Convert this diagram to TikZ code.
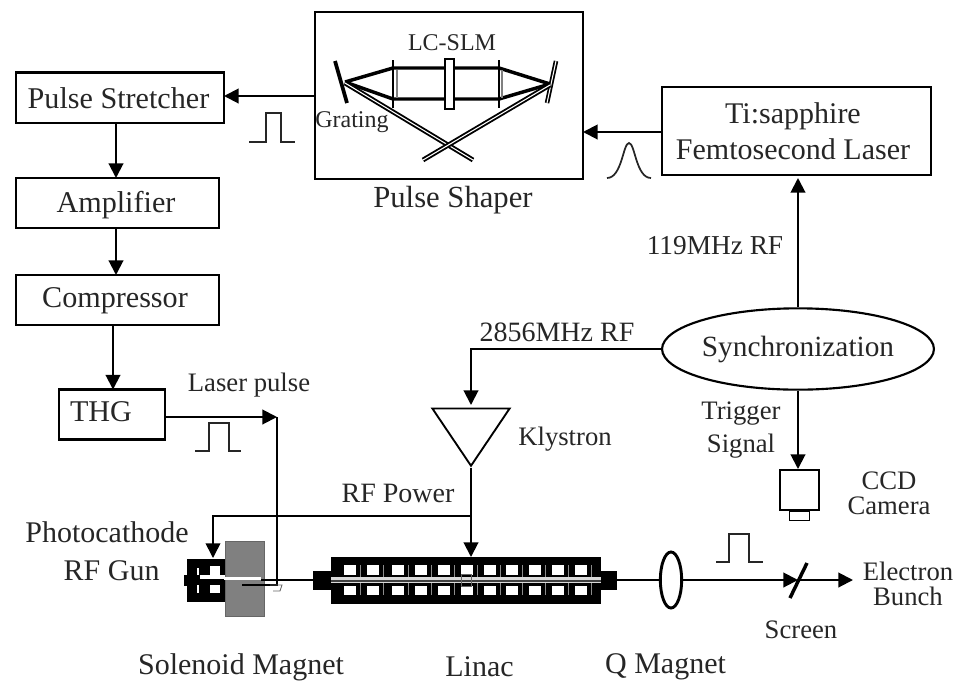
\documentclass[tikz,border=0pt]{standalone}
\usepackage{fontspec}
\setmainfont{Liberation Serif}
\usetikzlibrary{arrows.meta,shapes.geometric}
\tikzset{
 x=0.75pt,y=-0.75pt,
 lbl/.style={inner sep=0pt,font=\fontsize{#1}{25}\selectfont,text=black!85,align=center},
 lbl/.default=21,
 boxn/.style={draw,line width=1.6pt,inner sep=0pt,outer sep=0pt,anchor=north west},
 conn/.style={line width=1.5pt,-{Triangle[length=11pt,width=11pt]}},
 pulse/.style={line width=1.3pt,black!85},
 beam/.style={line width=2.6pt},
}
\begin{document}
\begin{tikzpicture}
\useasboundingbox (0,0) rectangle (961,683);
% boxes
\node[boxn,minimum width=156pt,minimum height=38pt] (ps) at (16,72.5) {};
\node[lbl=22.6] at (118.5,98) {Pulse Stretcher};
\node[boxn,minimum width=152pt,minimum height=37.5pt] (amp) at (16,178) {};
\node[lbl=22.6] at (116,205) {Amplifier};
\node[boxn,minimum width=152pt,minimum height=37.5pt] (comp) at (16,275) {};
\node[lbl=22.6] at (115,301) {Compressor};
\node[boxn,minimum width=79.5pt,minimum height=37.5pt] (thg) at (59,389.5) {};
\node[lbl=22.6] at (101,412) {THG};
\node[boxn,minimum width=201pt,minimum height=125pt] (shaper) at (315,12) {};
\node[boxn,minimum width=201.75pt,minimum height=66pt] (ti) at (662,87) {};
\node[lbl=22.5] (titext) at (793,131) {Ti:sapphire\\[2pt]Femtosecond Laser};
\node[draw,line width=1.6pt,ellipse,minimum width=99pt,minimum height=61pt,inner sep=0pt,lbl=22] (sync) at (798,349) {Synchronization};
% klystron
\node[draw,line width=1.4pt,isosceles triangle,shape border rotate=-90,isosceles triangle stretches,minimum width=58pt,minimum height=43pt,inner sep=0pt] (kly) at (471,429) {};
% CCD
\node[draw,line width=1.4pt,minimum width=29.5pt,minimum height=30pt,inner sep=0pt,anchor=north west] (ccd) at (779,469) {};
\node[draw,line width=1.2pt,minimum width=15pt,minimum height=6.5pt,inner sep=0pt,anchor=north] (ccdl) at (ccd.south) {};
% connectors
\coordinate (psin) at (224,96);
\coordinate (tiin) at (798,178);
\draw[conn] (shaper.west |- psin) -- (psin);
\draw[conn] (116,123) -- (116,178);
\draw[conn] (116,228) -- (116,275);
\draw[conn] (113,325) -- (113,389.5);
\draw[conn] (ti.west |- 0,132) -- (shaper.east |- 0,132);
\draw[conn] (sync.north) -- (tiin);
\coordinate (k1) at (471,349);
\draw[conn] (sync.west) -- (k1) -- (kly.north |- 0,405);
\draw[conn] (sync.south) -- (sync.south |- ccd.north);
% gray solenoid
\fill[black!50,draw=black!60,line width=.6pt] (225,541) rectangle (264,616);
% gun
\fill[black] (187,559) rectangle (225,602);
\fill[black] (184,575) rectangle (187,586);
\fill[white] (197,568) rectangle (199,575);
\fill[white] (210,566) rectangle (220,576);
\fill[white] (200,575) rectangle (225,579);
\fill[white] (210,585) rectangle (220,593);
\fill[white] (197,585) rectangle (199,593);
\fill[white] (224,577) rectangle (261,579.5);
% linac
\fill[black] (331,557) rectangle (601,604);
\foreach \c in {350,373,398,421,444,467,490,512,535,558,581}{
 \fill[white] (\c-6,565) rectangle (\c+6,575);
 \fill[white] (\c-6,586) rectangle (\c+6,595);
 \draw[black!45,line width=.5pt] (\c+10,565) -- (\c+10,595);
}
\fill[black!15] (331,577) rectangle (601,583);
\draw[black!75,line width=.9pt] (331,581) -- (601,581);
\fill[black] (313,571) rectangle (331,590);
\fill[black] (601,571) rectangle (617,590);
\draw[black!60,line width=.7pt] (461,574) rectangle (471,586);
% beam line
\draw[line width=1.4pt] (261,580) -- (313,580);
\draw[line width=1.4pt] (617,580) -- (661,580);
\node[draw,line width=2.2pt,ellipse,minimum width=16pt,minimum height=42pt,inner sep=0pt] (qm) at (671,580) {};
\coordinate (scr) at (798,580);
\coordinate (eb) at (853,580);
\draw[conn] (qm.east) -- (scr);
\draw[conn] (scr) -- (eb);
\draw[line width=2.6pt] (790,598) -- (807,563);
% klystron to linac, RF
\coordinate (lin) at (471,557);
\coordinate (rf) at (471,516);
\coordinate (gt) at (213,558);
\draw[conn] (kly.south) -- (lin);
\draw[conn,line width=1.2pt] (rf) -- (213,516) -- (gt);
% laser path
\coordinate (m) at (277,417);
\coordinate (m2) at (277,585);
\draw[conn] (thg.east |- m) -- (m);
\draw[line width=1.5pt] (m) -- (m2) -- (242,585);
\draw[black!60,line width=.7pt] (270,585) -- (282,585) -- (280,591) -- (273,591);
% pulses
\draw[pulse] (249,142) -- (266,142) -- (266,113) -- (281,113) -- (281,142) -- (295,142);
\draw[pulse] (195,451) -- (209,451) -- (209,423) -- (229,423) -- (229,451) -- (241,451);
\draw[pulse] (716,562) -- (729,562) -- (729,534) -- (749,534) -- (749,562) -- (763,562);
\draw[pulse] (607,178) .. controls (622,178) and (623,143) .. (629,143) .. controls (635,143) and (636,178) .. (651,178);
% pulse shaper optics
\draw[line width=2.8pt] (335,61) -- (347,103);
\draw[line width=3.4pt] (556,61) -- (547,103);
\draw[white,line width=.8pt] (556,61) -- (547,103);
\draw[beam] (345,82) -- (393,68) -- (499,68) -- (550,84);
\draw[beam] (345,82) -- (393,99) -- (499,99) -- (550,84);
\draw[line width=3.6pt] (345,83) -- (473,160);
\draw[white,line width=.8pt] (345,83) -- (473,160);
\draw[line width=3.6pt] (550,85) -- (423,160);
\draw[white,line width=.8pt] (550,85) -- (423,160);
\draw[line width=2.2pt] (393,60) -- (393,108);
\draw[black!50,line width=1.4pt] (397,70) -- (397,98);
\draw[line width=2.2pt] (499,60) -- (499,108);
\draw[black!50,line width=2pt] (502,70) -- (502,98);
\draw[fill=white,line width=1.3pt] (445,59) rectangle (454,109);
% labels
\node[lbl=18] (slm) at (452,43) {LC-SLM};
\node[lbl=18] (gr) at (352,122) {Grating};
\node[lbl=23] (psh) at (453,200) {Pulse Shaper};
\node[lbl=20.5] (rf119) at (715,246) {119MHz RF};
\node[lbl=21] (rf2856) at (557,332) {2856MHz RF};
\node[lbl=20] (lp) at (249,385) {Laser pulse};
\node[lbl=20] (kl) at (565,439) {Klystron};
\node[lbl=20] (trig) at (741,430) {Trigger\\Signal};
\node[lbl=20] (ccdt) at (889,493) {CCD\\[-6pt]Camera};
\node[lbl=21] (rfp) at (398,493) {RF Power};
\node[lbl=22.5] (pc) at (107,551) {Photocathode\\[3.5pt]\hspace*{7pt}RF Gun};
\node[lbl=20] (eb2) at (908,584) {Electron\\[-6pt]Bunch};
\node[lbl=20] (scrt) at (801,630) {Screen};
\node[lbl=22.5] (sol) at (241,667) {Solenoid Magnet};
\node[lbl=22.5] (lin2) at (479.5,667) {Linac};
\node[lbl=22.5] (qmt) at (665.5,667) {Q Magnet};
\end{tikzpicture}
\end{document}
